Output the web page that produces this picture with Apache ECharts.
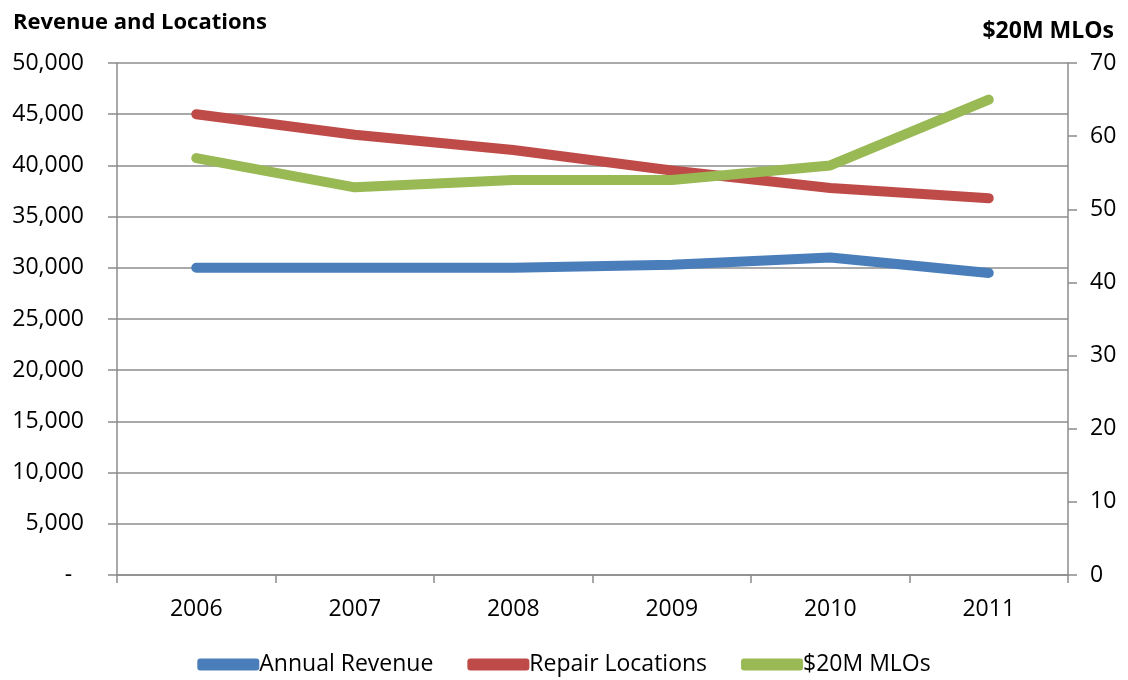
<!DOCTYPE html>
<html>
<head>
<meta charset="utf-8">
<script src="https://cdn.jsdelivr.net/npm/echarts@6/dist/echarts.min.js"></script>
<style>
  html, body { margin: 0; padding: 0; background: #fff; }
  #chart { width: 1128px; height: 680px; }
</style>
</head>
<body>
<div id="chart"></div>
<script>
// Years on the category axis
const years = ['2006', '2007', '2008', '2009', '2010', '2011'];

// Left axis series (Revenue and Locations)
const annualRevenue = [30000, 30000, 30000, 30300, 31000, 29500];
const repairLocations = [45000, 43000, 41500, 39500, 37800, 36800];

// Right axis series ($20M MLOs)
const mlos = [57, 53, 54, 54, 56, 65];

const FONT = '"Open Sans", "Noto Sans", sans-serif';
const AXIS_GREY = '#8c8c8c';
const TEXT = '#000';
const LINE_W = 10;

const chart = echarts.init(document.getElementById('chart'), null, { renderer: 'canvas' });

chart.setOption({
  animation: false,
  backgroundColor: '#fff',
  textStyle: { fontFamily: FONT, color: TEXT },
  title: [
    {
      text: 'Revenue and Locations',
      left: 8, top: 7,
      textStyle: { fontFamily: FONT, fontWeight: 'bold', fontSize: 22, color: TEXT }
    },
    {
      text: '$20M MLOs',
      right: 9, top: 15,
      textStyle: { fontFamily: FONT, fontWeight: 'bold', fontSize: 23, color: TEXT }
    }
  ],
  legend: {
    bottom: -1,
    left: 'center',
    itemWidth: 62,
    itemHeight: 12,
    itemGap: 34,
    icon: 'roundRect',
    textStyle: { fontFamily: FONT, fontSize: 23, color: TEXT, padding: [0, 0, 0, -5] },
    data: ['Annual Revenue', 'Repair Locations', '$20M MLOs']
  },
  grid: { left: 117, right: 60, top: 63, bottom: 105, containLabel: false },
  xAxis: {
    type: 'category',
    data: years,
    boundaryGap: true,
    axisLine: { lineStyle: { color: AXIS_GREY, width: 1.5 } },
    axisTick: { show: true, inside: false, length: 8, alignWithLabel: false, lineStyle: { color: AXIS_GREY, width: 1.5 } },
    axisLabel: { margin: 23, fontSize: 23, color: TEXT, fontFamily: FONT }
  },
  yAxis: [
    {
      type: 'value',
      min: 0, max: 50000, interval: 5000,
      axisLine: { show: true, lineStyle: { color: AXIS_GREY, width: 1.5 } },
      axisTick: { show: true, inside: false, length: 9, lineStyle: { color: AXIS_GREY, width: 1.5 } },
      splitLine: { show: true, lineStyle: { color: AXIS_GREY, width: 1.5 } },
      axisLabel: {
        margin: 33, fontSize: 23, color: TEXT, fontFamily: FONT,
        formatter: v => v === 0 ? '-  ' : v.toLocaleString('en-US')
      }
    },
    {
      type: 'value',
      position: 'right',
      min: 0, max: 70, interval: 10,
      axisLine: { show: true, lineStyle: { color: AXIS_GREY, width: 1.5 } },
      axisTick: { show: true, inside: false, length: 9, lineStyle: { color: AXIS_GREY, width: 1.5 } },
      splitLine: { show: false },
      axisLabel: { margin: 22, fontSize: 23, color: TEXT, fontFamily: FONT }
    }
  ],
  series: [
    {
      name: 'Annual Revenue',
      type: 'line',
      yAxisIndex: 0,
      data: annualRevenue,
      showSymbol: false,
      symbol: 'none',
      color: '#4a7ebb',
      lineStyle: { width: LINE_W, color: '#4a7ebb', cap: 'round', join: 'round' },
      z: 3
    },
    {
      name: 'Repair Locations',
      type: 'line',
      yAxisIndex: 0,
      data: repairLocations,
      showSymbol: false,
      symbol: 'none',
      color: '#be4b48',
      lineStyle: { width: LINE_W, color: '#be4b48', cap: 'round', join: 'round' },
      z: 4
    },
    {
      name: '$20M MLOs',
      type: 'line',
      yAxisIndex: 1,
      data: mlos,
      showSymbol: false,
      symbol: 'none',
      color: '#98b954',
      lineStyle: { width: LINE_W, color: '#98b954', cap: 'round', join: 'round' },
      z: 5
    }
  ]
});
</script>
</body>
</html>
